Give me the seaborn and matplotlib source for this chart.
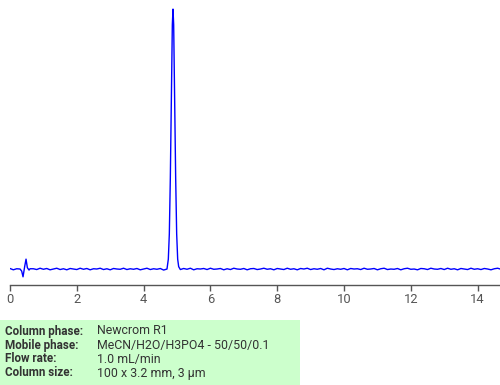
import matplotlib
matplotlib.use("Agg")
import matplotlib.pyplot as plt
import seaborn as sns
import pandas as pd
from matplotlib.patches import Rectangle

# ---- data ----
dist_time = [0.0, 0.1, 0.2, 0.3, 0.35, 0.39, 0.44, 0.48, 0.52, 0.57, 0.6]
dist_signal = [0.2, -0.3, 0.1, 0.0, -0.8, -3.0, 1.0, 3.8, 0.5, -0.4, 0.1]

base1_time = [0.7, 0.8, 0.9, 1.0, 1.1, 1.2, 1.3, 1.4, 1.5, 1.6,
              1.7, 1.8, 1.9, 2.0, 2.1, 2.2, 2.3, 2.4, 2.5, 2.6,
              2.7, 2.8, 2.9, 3.0, 3.1, 3.2, 3.3, 3.4, 3.5, 3.6,
              3.7, 3.8, 3.9, 4.0, 4.1, 4.2, 4.3, 4.4, 4.5, 4.6,
              4.7]
base1_signal = [0.1, -0.2, 0.3, -0.1, 0.2, -0.3, 0.0, 0.3, -0.2, 0.1,
                -0.3, 0.2, 0.0, -0.2, 0.3, -0.1, 0.2, -0.3, 0.1, 0.0,
                0.3, -0.2, 0.1, -0.3, 0.2, 0.0, -0.1, 0.3, -0.2, 0.1,
                -0.1, 0.2, -0.3, 0.0, 0.3, -0.2, 0.1, -0.1, 0.2, -0.4,
                0.0]

peak_time = [4.74, 4.77, 4.80, 4.83, 4.86, 4.88, 4.90, 4.93, 4.96, 4.99, 5.02, 5.05]
peak_signal = [3.8, 13.5, 35.0, 66.0, 94.0, 100.0, 94.0, 66.0, 35.0, 13.5, 3.8, 0.9]

base2_time = [5.1, 5.2, 5.3, 5.4, 5.5, 5.6, 5.7, 5.8, 5.9, 6.0,
              6.1, 6.2, 6.3, 6.4, 6.5, 6.6, 6.7, 6.8, 6.9, 7.0,
              7.1, 7.2, 7.3, 7.4, 7.5, 7.6, 7.7, 7.8, 7.9, 8.0,
              8.1, 8.2, 8.3, 8.4, 8.5, 8.6, 8.7, 8.8, 8.9, 9.0,
              9.1, 9.2, 9.3, 9.4, 9.5, 9.6, 9.7, 9.8, 9.9, 10.0,
              10.1, 10.2, 10.3, 10.4, 10.5, 10.6, 10.7, 10.8, 10.9, 11.0,
              11.1, 11.2, 11.3, 11.4, 11.5, 11.6, 11.7, 11.8, 11.9, 12.0,
              12.1, 12.2, 12.3, 12.4, 12.5, 12.6, 12.7, 12.8, 12.9, 13.0,
              13.1, 13.2, 13.3, 13.4, 13.5, 13.6, 13.7, 13.8, 13.9, 14.0,
              14.1, 14.2, 14.3, 14.4, 14.5, 14.6, 14.7]
base2_signal = [-0.2, 0.2, -0.1, 0.3, -0.3, 0.1, 0.0, 0.2, -0.2, 0.3,
                -0.1, 0.0, 0.2, -0.3, 0.1, -0.2, 0.3, 0.0, -0.1, 0.2,
                -0.3, 0.1, 0.2, -0.2, 0.0, 0.3, -0.1, 0.1, -0.3, 0.2,
                0.0, -0.2, 0.3, -0.1, 0.1, -0.3, 0.2, 0.0, 0.3, -0.2,
                0.1, -0.1, 0.2, -0.3, 0.3, 0.0, -0.2, 0.1, -0.1, 0.2,
                -0.3, 0.2, 0.0, 0.1, -0.2, 0.3, -0.1, 0.0, 0.2, -0.3,
                0.1, 0.3, -0.2, 0.0, -0.1, 0.2, -0.3, 0.1, 0.3, -0.1,
                0.0, -0.3, 0.2, 0.1, -0.2, 0.3, 0.0, -0.1, 0.2, -0.2,
                0.3, -0.1, 0.1, -0.3, 0.2, 0.0, -0.2, 0.3, -0.1, 0.1,
                -0.2, 0.2, 0.0, -0.3, 0.1, 0.3, -0.1]

x_ticks = [0, 2, 4, 6, 8, 10, 12, 14]
info_labels = ["Column phase:", "Mobile phase:", "Flow rate:", "Column size:"]
info_values = ["Newcrom R1", "MeCN/H2O/H3PO4 - 50/50/0.1", "1.0 mL/min", "100 x 3.2 mm, 3 µm"]

# ---- build frame ----
time = dist_time + base1_time + peak_time + base2_time
signal = dist_signal + base1_signal + peak_signal + base2_signal
df = pd.DataFrame({"time": time, "signal": signal})

sns.set_theme(style="white")
plt.rcParams["font.family"] = ["Roboto", "DejaVu Sans"]

fig = plt.figure(figsize=(5.0, 3.85), dpi=100)
ax = fig.add_axes([0.02, 1 - 285 / 385, 0.98, 285 / 385])

sns.lineplot(data=df, x="time", y="signal", ax=ax, color="#0000ff",
             linewidth=1.0, estimator=None, sort=False)

ax.set_xlim(0, 14.67)
ax.set_ylim(-6.15, 103.5)
ax.set_xticks(x_ticks)
ax.set_xticklabels([str(t) for t in x_ticks])
ax.set_yticks([])
ax.set_xlabel("")
ax.set_ylabel("")
for s in ["top", "right", "left"]:
    ax.spines[s].set_visible(False)
ax.spines["bottom"].set_color("#555555")
ax.spines["bottom"].set_linewidth(1.0)
ax.tick_params(axis="x", direction="out", length=4, width=1, color="#555555",
               labelsize=9.3, labelcolor="#555555", pad=2, bottom=True)

# ---- info box ----
fig.patches.append(Rectangle((0, 0), 300 / 500, 65 / 385, transform=fig.transFigure,
                             facecolor="#ccffcc", edgecolor="none", zorder=0))
row_y = [331, 345, 359, 373]
for lab, val, y in zip(info_labels, info_values, row_y):
    fig.text(5 / 500, 1 - y / 385, lab, fontsize=8.4, fontweight="bold",
             color="#333333", va="center", ha="left")
    fig.text(97 / 500, 1 - y / 385, val, fontsize=8.9, color="#333333",
             va="center", ha="left")

fig.savefig("out.png", dpi=100)
